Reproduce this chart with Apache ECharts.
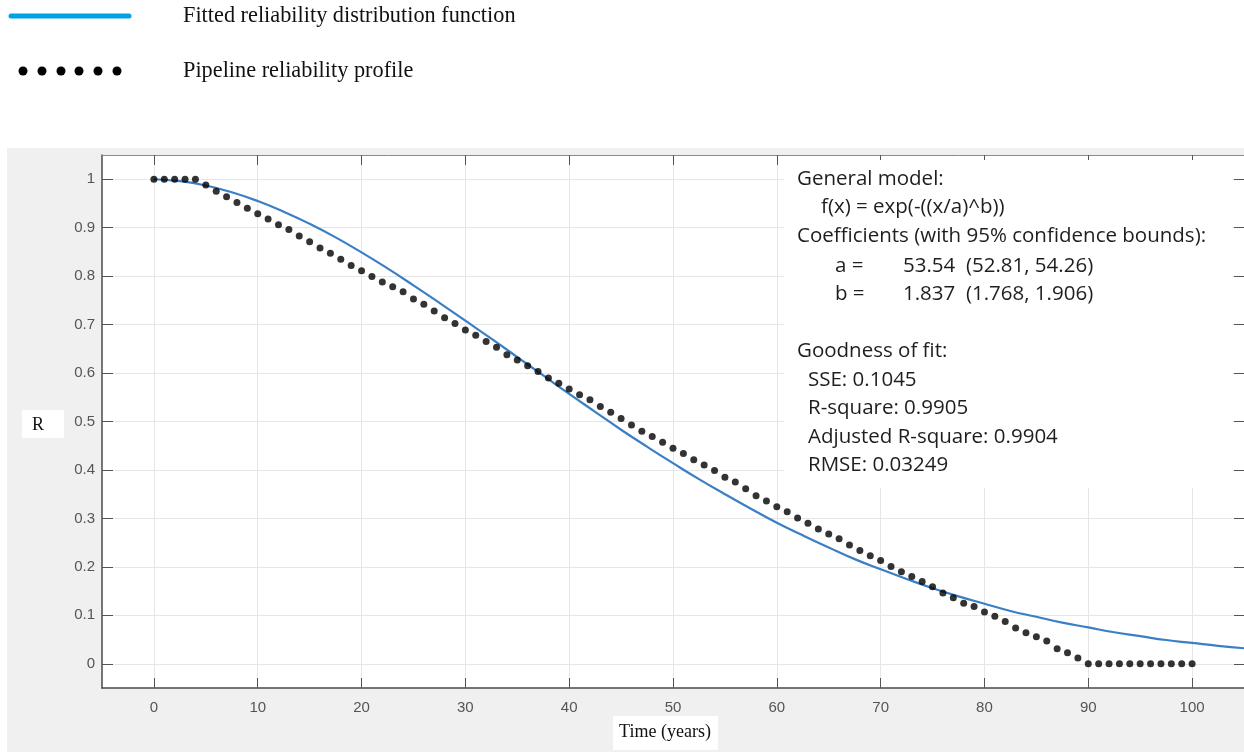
<!DOCTYPE html>
<html>
<head>
<meta charset="utf-8">
<title>Reliability fit</title>
<script src="https://cdn.jsdelivr.net/npm/echarts@6/dist/echarts.min.js"></script>
<style>
    html, body { margin: 0; padding: 0; background: #fff; }
    #main { width: 1244px; height: 752px; }
</style>
</head>
<body>
<div id="main"></div>
<script>
// fitted Weibull curve, every 2.5 years
const fitYears = [
    0, 2.5, 5, 7.5, 10, 12.5, 15, 17.5, 20, 22.5, 25, 27.5, 30, 32.5, 35, 37.5, 40, 42.5, 45, 47.5, 50,
    52.5, 55, 57.5, 60, 62.5, 65, 67.5, 70, 72.5, 75, 77.5, 80, 82.5, 85, 87.5, 90, 92.5, 95, 97.5, 100, 102.5, 105
]
const fitR = [
    1, 0.996, 0.987, 0.973, 0.955, 0.933, 0.908, 0.880, 0.849, 0.816, 0.781, 0.745, 0.708, 0.671, 0.633, 0.595, 0.557,
    0.520, 0.483, 0.448, 0.414, 0.381, 0.350, 0.320, 0.291, 0.265, 0.240, 0.216, 0.195, 0.175, 0.156,
    0.139, 0.124, 0.109, 0.097, 0.085, 0.075, 0.065, 0.057, 0.049, 0.043, 0.037, 0.032
]

// pipeline reliability profile, one point per year (0..100)
const profileYears = [
    0, 1, 2, 3, 4, 5, 6, 7, 8, 9, 10, 11, 12, 13, 14, 15, 16, 17, 18, 19, 20,
    21, 22, 23, 24, 25, 26, 27, 28, 29, 30, 31, 32, 33, 34, 35, 36, 37, 38, 39, 40,
    41, 42, 43, 44, 45, 46, 47, 48, 49, 50, 51, 52, 53, 54, 55, 56, 57, 58, 59, 60,
    61, 62, 63, 64, 65, 66, 67, 68, 69, 70, 71, 72, 73, 74, 75, 76, 77, 78, 79, 80,
    81, 82, 83, 84, 85, 86, 87, 88, 89, 90, 91, 92, 93, 94, 95, 96, 97, 98, 99, 100
]
const profileR = [
    1, 1, 1, 1, 1, 0.988, 0.975, 0.964, 0.952, 0.940, 0.929, 0.918, 0.906, 0.896, 0.883, 0.871,
    0.858, 0.847, 0.835, 0.822, 0.811, 0.799, 0.788, 0.778, 0.768, 0.753, 0.742, 0.728, 0.714, 0.702, 0.689,
    0.678, 0.665, 0.653, 0.638, 0.627, 0.615, 0.603, 0.590, 0.579, 0.567,
    0.555, 0.545, 0.531, 0.519, 0.506, 0.493, 0.480, 0.469, 0.457, 0.445,
    0.434, 0.421, 0.410, 0.399, 0.385, 0.375, 0.361, 0.347, 0.336, 0.324,
    0.314, 0.301, 0.290, 0.278, 0.268, 0.258, 0.245, 0.234, 0.223, 0.213,
    0.201, 0.190, 0.180, 0.170, 0.159, 0.146, 0.136, 0.125, 0.118, 0.107,
    0.098, 0.087, 0.074, 0.064, 0.056, 0.047, 0.031, 0.023, 0.012, 0,
    0, 0, 0, 0, 0, 0, 0, 0, 0, 0
]

// tick labels
const xTicks = [0, 10, 20, 30, 40, 50, 60, 70, 80, 90, 100]
const yTicks = [0, 0.1, 0.2, 0.3, 0.4, 0.5, 0.6, 0.7, 0.8, 0.9, 1]

// text of the fit summary box
const fitSummary = [
    { text: 'General model:', x: 797, y: 179 },
    { text: 'f(x) = exp(-((x/a)^b))', x: 821, y: 207 },
    { text: 'Coefficients (with 95% confidence bounds):', x: 797, y: 236 },
    { text: 'a =', x: 835, y: 266 },
    { text: '53.54  (52.81, 54.26)', x: 903, y: 266 },
    { text: 'b =', x: 835, y: 294 },
    { text: '1.837  (1.768, 1.906)', x: 903, y: 294 },
    { text: 'Goodness of fit:', x: 797, y: 351 },
    { text: 'SSE: 0.1045', x: 808, y: 380 },
    { text: 'R-square: 0.9905', x: 808, y: 408 },
    { text: 'Adjusted R-square: 0.9904', x: 808, y: 437 },
    { text: 'RMSE: 0.03249', x: 808, y: 465 },
]

const chart = echarts.init(document.getElementById('main'))

const tickFont = {
    color: '#555',
    fontSize: 15,
    fontFamily: 'Liberation Sans, Arial, sans-serif',
}

// shared settings for the frame axes (top / right)
function frameAxis(extra) {
    return Object.assign({
        type: 'value',
        axisLine: { show: true, onZero: false, lineStyle: { color: '#8a8a8a', width: 1 } },
        axisTick: { show: true, inside: true, length: 10, lineStyle: { color: '#555' } },
        axisLabel: { show: false },
        splitLine: { show: false },
    }, extra)
}

const legendDots = [23, 42, 61, 79, 98, 117].map((cx) => ({
    type: 'circle',
    shape: { cx: cx, cy: 71, r: 4.5 },
    style: { fill: '#000' },
}))

const summaryTexts = fitSummary.map((item) => ({
    type: 'text',
    x: item.x,
    y: item.y,
    z: 20,
    style: {
        text: item.text,
        fill: '#1e1e1e',
        fontSize: 20.5,
        fontFamily: 'Open Sans, sans-serif',
        verticalAlign: 'middle',
    },
}))

const serifText = (text, x, y, size, align) => ({
    type: 'text',
    z: 11,
    x: x,
    y: y,
    style: {
        text: text,
        fill: '#111',
        fontSize: size,
        fontFamily: 'Liberation Serif, serif',
        align: align,
        verticalAlign: 'middle',
    },
})

const option = {
    animation: false,
    grid: {
        left: 102,
        right: 0,
        top: 155,
        bottom: 64,
        show: true,
        backgroundColor: '#fff',
        borderWidth: 0,
    },
    xAxis: [
        {
            type: 'value',
            min: -5,
            max: 105,
            position: 'bottom',
            axisLine: { show: true, onZero: false, lineStyle: { color: '#4a4a4a', width: 1.5 } },
            axisTick: { show: true, inside: true, length: 10, customValues: xTicks, lineStyle: { color: '#555' } },
            axisLabel: Object.assign({ customValues: xTicks, margin: 12 }, tickFont),
            splitLine: { show: true, lineStyle: { color: '#e6e6e6', width: 1 } },
        },
        frameAxis({
            min: -5,
            max: 105,
            position: 'top',
            axisTick: { show: true, inside: true, length: 10, customValues: xTicks, lineStyle: { color: '#555' } },
        }),
    ],
    yAxis: [
        {
            type: 'value',
            min: -0.05,
            max: 1.05,
            position: 'left',
            axisLine: { show: true, onZero: false, lineStyle: { color: '#4a4a4a', width: 1.5 } },
            axisTick: { show: true, inside: true, length: 11, customValues: yTicks, lineStyle: { color: '#555' } },
            axisLabel: Object.assign({ customValues: yTicks, margin: 7 }, tickFont),
            splitLine: { show: true, lineStyle: { color: '#e6e6e6', width: 1 } },
        },
        frameAxis({
            min: -0.05,
            max: 1.05,
            position: 'right',
            axisTick: { show: true, inside: true, length: 10, customValues: yTicks, lineStyle: { color: '#555' } },
        }),
    ],
    series: [
        {
            name: 'Fitted reliability distribution function',
            type: 'line',
            xAxisIndex: 0,
            yAxisIndex: 0,
            data: fitYears.map((x, i) => [x, fitR[i]]),
            smooth: true,
            showSymbol: false,
            lineStyle: { color: '#3a7fc5', width: 2.2 },
            z: 3,
        },
        {
            name: 'Pipeline reliability profile',
            type: 'scatter',
            xAxisIndex: 0,
            yAxisIndex: 0,
            data: profileYears.map((x, i) => [x, profileR[i]]),
            symbolSize: 7,
            itemStyle: { color: '#000' },
            z: 4,
        },
    ],
    graphic: [
        // grey figure background
        {
            type: 'rect',
            z: -100,
            shape: { x: 7, y: 148, width: 1237, height: 604 },
            style: { fill: '#f0f0f0' },
        },
        // legend at the top
        {
            type: 'line',
            shape: { x1: 11, y1: 16, x2: 129, y2: 16 },
            style: { stroke: '#00a2e2', lineWidth: 5, lineCap: 'round' },
        },
        serifText('Fitted reliability distribution function', 183, 16, 22.3, 'left'),
        ...legendDots,
        serifText('Pipeline reliability profile', 183, 71, 22.3, 'left'),
        // axis title R
        {
            type: 'rect',
            z: 10,
            shape: { x: 22, y: 410, width: 42, height: 28 },
            style: { fill: '#fff' },
        },
        serifText('R', 38, 425, 18, 'center'),
        // axis title Time (years)
        {
            type: 'rect',
            z: 10,
            shape: { x: 613, y: 716, width: 105, height: 34 },
            style: { fill: '#fff' },
        },
        serifText('Time (years)', 665, 732, 18, 'center'),
        // fit summary box
        {
            type: 'rect',
            z: 19,
            shape: { x: 784, y: 160, width: 448, height: 328 },
            style: { fill: '#fff' },
        },
        ...summaryTexts,
    ],
}

chart.setOption(option)
</script>
</body>
</html>
